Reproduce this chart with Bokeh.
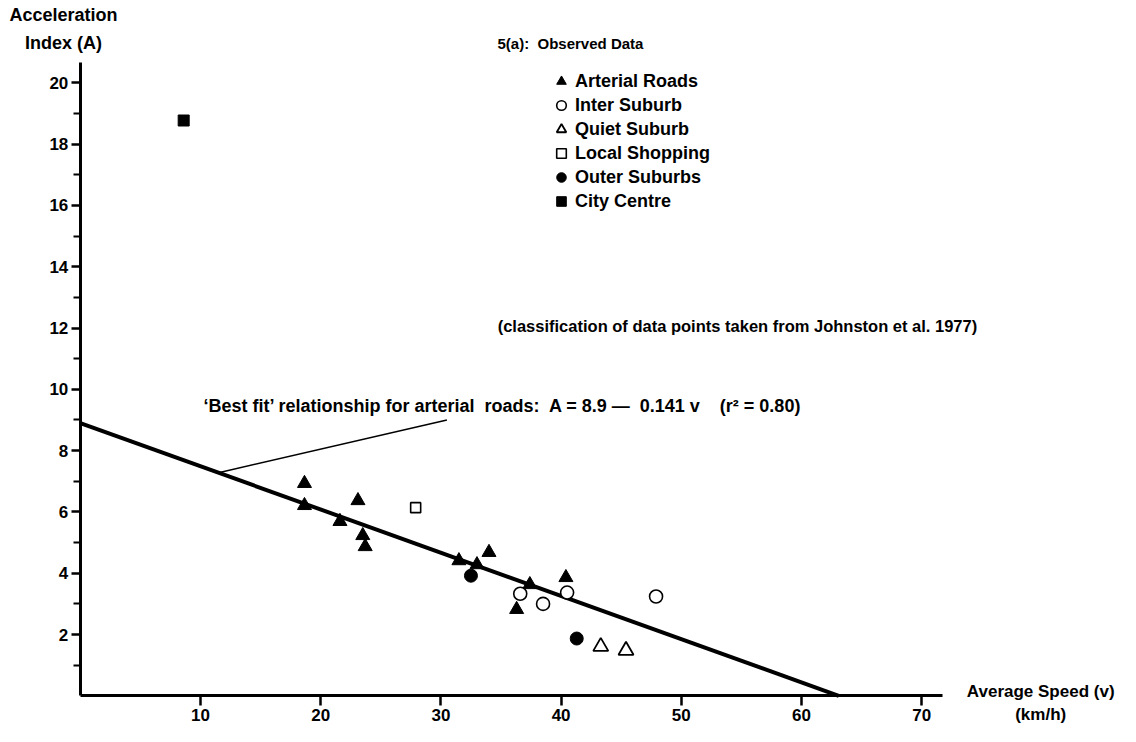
from bokeh.plotting import figure
from bokeh.models import Range1d, FixedTicker, Label, Legend, LegendItem
from bokeh.embed import file_html
from bokeh.resources import INLINE

# ---------------- data ----------------
arterial_v = [18.65, 18.65, 21.6, 23.1, 23.5, 23.7, 31.5, 33.0, 34.0, 37.4, 36.3, 40.4]
arterial_A = [6.93, 6.21, 5.69, 6.37, 5.23, 4.87, 4.41, 4.28, 4.68, 3.63, 2.82, 3.86]

inter_v = [36.6, 38.5, 40.5, 47.9]
inter_A = [3.33, 3.00, 3.37, 3.24]

quiet_v = [43.3, 45.4]
quiet_A = [1.61, 1.48]

local_v = [27.9]
local_A = [6.14]

outer_v = [32.5, 41.3]
outer_A = [3.92, 1.87]

city_v = [8.6]
city_A = [18.77]

# best fit line A = 8.9 - 0.141 v, drawn between its axis intercepts
fit_v = [0.0, 63.1]
fit_A = [8.9, 0.0]

# leader from the fit line to the annotation
leader_v = [11.5, 30.5]
leader_A = [7.28, 9.0]

x_ticks = [10, 20, 30, 40, 50, 60, 70]
y_ticks = [2, 4, 6, 8, 10, 12, 14, 16, 18, 20]
y_minor = [1, 3, 5, 7, 9, 11, 13, 15, 17, 19]

FONT = "Liberation Sans"

p = figure(width=1120, height=726,
           x_range=Range1d(-6.64, 86.54), y_range=Range1d(-1.0, 22.685),
           output_backend="svg", toolbar_location=None,
           min_border_left=0, min_border_right=0,
           min_border_top=0, min_border_bottom=0)
p.grid.visible = False
p.outline_line_color = None
p.background_fill_color = "white"
p.border_fill_color = "white"

for ax in (p.xaxis[0], p.yaxis[0]):
    ax.fixed_location = 0
    ax.axis_line_width = 3
    ax.axis_line_color = "black"
    ax.major_tick_line_width = 2.5
    ax.minor_tick_line_width = 2
    ax.major_tick_in = 0
    ax.minor_tick_in = 0
    ax.major_label_text_font = FONT
    ax.major_label_text_font_style = "bold"
    ax.major_label_text_font_size = "17px"
    ax.major_label_text_color = "black"

p.xaxis.bounds = (0, 71.75)
p.yaxis.bounds = (0, 20.66)
p.xaxis.ticker = FixedTicker(ticks=x_ticks, minor_ticks=[])
p.yaxis.ticker = FixedTicker(ticks=y_ticks, minor_ticks=y_minor)
p.xaxis.major_tick_out = 10
p.xaxis.minor_tick_out = 0
p.xaxis.major_label_standoff = 3
p.yaxis.major_tick_out = 9
p.yaxis.minor_tick_out = 7
p.yaxis.major_label_standoff = 3

# fit line and leader
p.line(fit_v, fit_A, line_width=4, line_color="black")
p.line(leader_v, leader_A, line_width=1.5, line_color="black")

# data points
r_art = p.scatter(arterial_v, arterial_A, marker="triangle", size=14,
                  fill_color="black", line_color="black")
r_int = p.scatter(inter_v, inter_A, marker="circle", size=13,
                  fill_color="white", line_color="black", line_width=1.6)
r_qui = p.scatter(quiet_v, quiet_A, marker="triangle", size=15,
                  fill_color="white", line_color="black", line_width=1.8)
r_loc = p.scatter(local_v, local_A, marker="square", size=10,
                  fill_color="white", line_color="black", line_width=1.6)
r_out = p.scatter(outer_v, outer_A, marker="circle", size=13,
                  fill_color="black", line_color="black")
r_cit = p.scatter(city_v, city_A, marker="square", size=11,
                  fill_color="black", line_color="black")

legend = Legend(items=[
    LegendItem(label="Arterial Roads", renderers=[r_art]),
    LegendItem(label="Inter Suburb", renderers=[r_int]),
    LegendItem(label="Quiet Suburb", renderers=[r_qui]),
    LegendItem(label="Local Shopping", renderers=[r_loc]),
    LegendItem(label="Outer Suburbs", renderers=[r_out]),
    LegendItem(label="City Centre", renderers=[r_cit]),
], location=(549, 513))
legend.glyph_width = 24
legend.glyph_height = 24
legend.label_height = 24
legend.spacing = 0
legend.padding = 0
legend.margin = 0
legend.label_standoff = 2
legend.border_line_color = None
legend.background_fill_alpha = 0
legend.label_text_font = FONT
legend.label_text_font_style = "bold"
legend.label_text_font_size = "18px"
legend.label_text_color = "black"
legend.label_text_baseline = "middle"
p.add_layout(legend)


def lab(x, y, text, size="18px", align="left"):
    p.add_layout(Label(x=x, y=y, text=text, text_font=FONT,
                       text_font_style="bold", text_font_size=size,
                       text_color="black", text_align=align,
                       text_baseline="middle"))


lab(34.71, 21.28, "5(a):\u00a0 Observed Data", "15px")
lab(54.67, 12.08, "(classification of data points taken from Johnston et al. 1977)", "16.5px", "center")
lab(10.25, 9.47, "\u2018Best fit\u2019 relationship for arterial\u00a0 roads:\u00a0 A = 8.9 \u2014\u00a0 0.141 v\u00a0\u00a0\u00a0 (r\u00b2 = 0.80)", "18px")
lab(-1.40, 22.2, "Acceleration", "18px", "center")
lab(-1.40, 21.31, "Index (A)", "18px", "center")
lab(79.9, 0.14, "Average Speed (v)", "17px", "center")
lab(79.9, -0.62, "(km/h)", "17px", "center")

open("out.html", "w").write(file_html(p, INLINE))
